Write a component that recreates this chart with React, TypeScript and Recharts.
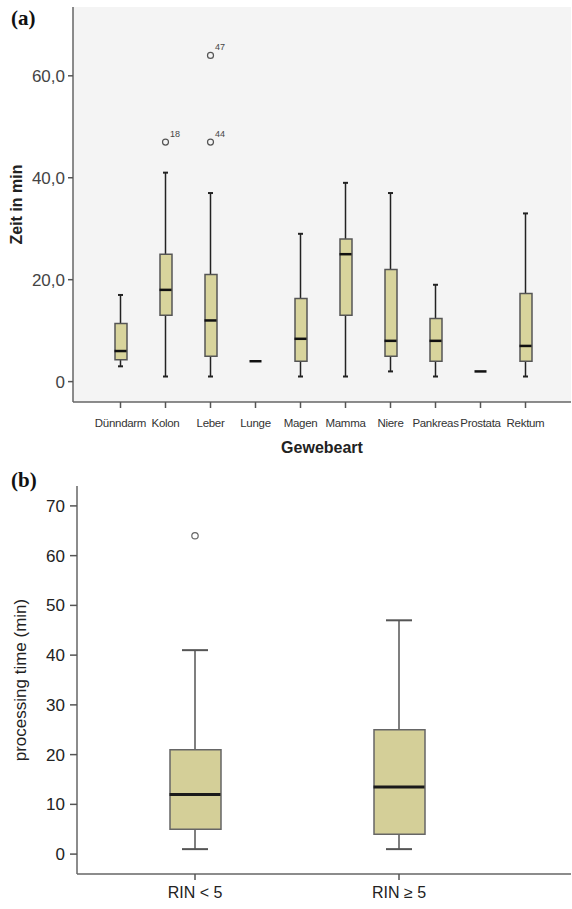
import { ComposedChart, Bar, Scatter, XAxis, YAxis, CartesianGrid } from "recharts";

// (a) processing time per tissue type
const tissues = ["Dünndarm", "Kolon", "Leber", "Lunge", "Magen", "Mamma", "Niere", "Pankreas", "Prostata", "Rektum"];
const tissueLow = [3, 1, 1, 4, 1, 1, 2, 1, 2, 1];
const tissueQ1 = [4.3, 13, 5, 4, 4, 13, 5, 4, 2, 4];
const tissueMedian = [6, 18, 12, 4, 8.4, 25, 8, 8, 2, 7];
const tissueQ3 = [11.4, 25, 21, 4, 16.3, 28, 22, 12.4, 2, 17.3];
const tissueHigh = [17, 41, 37, 4, 29, 39, 37, 19, 2, 33];
const tissueOutlierCats = ["Kolon", "Leber", "Leber"];
const tissueOutlierValues = [47, 47, 64];
const tissueOutlierIds = ["18", "44", "47"];
const yTicksA = [0, 20, 40, 60];

// (b) processing time by RIN group
const rinGroups = ["RIN < 5", "RIN ≥ 5"];
const rinLow = [1, 1];
const rinQ1 = [5, 4];
const rinMedian = [12, 13.5];
const rinQ3 = [21, 25];
const rinHigh = [41, 47];
const rinOutlierCats = ["RIN < 5"];
const rinOutlierValues = [64];
const rinOutlierIds = [""];
const yTicksB = [0, 10, 20, 30, 40, 50, 60, 70];

function buildRows(
  cats: string[], lo: number[], q1: number[], med: number[], q3: number[], hi: number[],
  outCats: string[], outVals: number[], outIds: string[]
) {
  return cats.map((name, i) => {
    const row: any = { name, whisker: [lo[i], hi[i]], box: [q1[i], q3[i]], median: med[i], outA: null, outB: null };
    const outs = outCats.map((c, j) => (c === name ? j : -1)).filter((j) => j >= 0);
    if (outs[0] !== undefined) { row.outA = outVals[outs[0]]; row.outAId = outIds[outs[0]]; }
    if (outs[1] !== undefined) { row.outB = outVals[outs[1]]; row.outBId = outIds[outs[1]]; }
    return row;
  });
}

const rowsA = buildRows(tissues, tissueLow, tissueQ1, tissueMedian, tissueQ3, tissueHigh, tissueOutlierCats, tissueOutlierValues, tissueOutlierIds);
const rowsB = buildRows(rinGroups, rinLow, rinQ1, rinMedian, rinQ3, rinHigh, rinOutlierCats, rinOutlierValues, rinOutlierIds);

const SANS = "'Liberation Sans', Arial, sans-serif";

function whiskerShape(color: string, width: number, capWidth: number) {
  return (p: any) => {
    const { x, y, width: w, height } = p;
    if (!(Math.abs(height) > 0)) return <g />;
    const top = Math.min(y, y + height);
    const bot = Math.max(y, y + height);
    const cx = x + w / 2;
    return (
      <g stroke={color}>
        <line x1={cx} x2={cx} y1={top} y2={bot} strokeWidth={width} />
        <line x1={x} x2={x + w} y1={top} y2={top} strokeWidth={capWidth} />
        <line x1={x} x2={x + w} y1={bot} y2={bot} strokeWidth={capWidth} />
      </g>
    );
  };
}

function medianShape(half: number, color: string, width: number) {
  return (p: any) => {
    const { cx, cy } = p;
    if (cx == null || cy == null) return <g />;
    return <line x1={cx - half} x2={cx + half} y1={cy} y2={cy} stroke={color} strokeWidth={width} />;
  };
}

function outlierShape(key: string, r: number, color: string, fontSize: number) {
  return (p: any) => {
    const { cx, cy, payload } = p;
    if (cx == null || cy == null || payload == null || payload[key] == null) return <g />;
    const id = payload[key + "Id"];
    return (
      <g>
        <circle cx={cx} cy={cy} r={r} fill="none" stroke={color} strokeWidth={1.2} />
        {id ? (
          <text x={cx + 4.5} y={cy - 5.5} fontSize={fontSize} fill="#444" fontFamily={SANS}>{id}</text>
        ) : null}
      </g>
    );
  };
}

function ChartA() {
  return (
    <ComposedChart width={572} height={460} data={rowsA} margin={{ top: 7, right: 1, left: 0, bottom: 0 }}>
      <CartesianGrid horizontal={false} vertical={false} fill="#f4f4f4" />
      <XAxis
        dataKey="name"
        height={58}
        padding={{ left: 25, right: 23 }}
        interval={0}
        tick={{ fontSize: 11.5, fill: "#333", fontFamily: SANS, letterSpacing: -0.3 }}
        tickSize={6}
        tickMargin={11}
        tickLine={{ stroke: "#555", strokeWidth: 1.5 }}
        axisLine={{ stroke: "#666", strokeWidth: 1.5 }}
        label={{ value: "Gewebeart", position: "insideBottom", offset: 7, style: { fontSize: 16, fontWeight: "bold", fill: "#222", fontFamily: SANS } }}
      />
      <XAxis xAxisId="w" dataKey="name" hide padding={{ left: 25, right: 23 }} />
      <XAxis xAxisId="top" dataKey="name" orientation="top" height={0} tick={false} tickLine={false} axisLine={{ stroke: "#777", strokeWidth: 1.5 }} />
      <YAxis
        width={73}
        domain={[-4, 73.5]}
        ticks={yTicksA}
        allowDataOverflow
        tickFormatter={(v: number) => (v === 0 ? "0" : `${v},0`)}
        tick={{ fontSize: 17, fill: "#444", fontFamily: SANS }}
        tickSize={5}
        tickMargin={3}
        tickLine={{ stroke: "#555", strokeWidth: 1.5 }}
        axisLine={{ stroke: "#666", strokeWidth: 1.5 }}
        label={{ value: "Zeit in min", angle: -90, position: "insideLeft", offset: 16, style: { textAnchor: "middle", fontSize: 16, fontWeight: "bold", fill: "#222", fontFamily: SANS } }}
      />
      <Bar xAxisId="w" dataKey="whisker" barSize={5} isAnimationActive={false} shape={whiskerShape("#222", 1.5, 2)} />
      <Bar dataKey="box" barSize={12} fill="#d8d49c" stroke="#555" strokeWidth={1.5} isAnimationActive={false} />
      <Scatter dataKey="median" isAnimationActive={false} shape={medianShape(6, "#111", 2.5)} />
      <Scatter dataKey="outA" isAnimationActive={false} shape={outlierShape("outA", 3, "#555", 9)} />
      <Scatter dataKey="outB" isAnimationActive={false} shape={outlierShape("outB", 3, "#555", 9)} />
    </ComposedChart>
  );
}

function ChartB() {
  return (
    <ComposedChart width={572} height={449} data={rowsB} margin={{ top: 26, right: 1, left: 0, bottom: 0 }}>
      <XAxis
        dataKey="name"
        height={35}
        padding={{ left: 16, right: 70 }}
        interval={0}
        tick={{ fontSize: 16, fill: "#222", fontFamily: SANS }}
        tickSize={6}
        tickMargin={7}
        tickLine={{ stroke: "#555", strokeWidth: 1.5 }}
        axisLine={{ stroke: "#666", strokeWidth: 1.5 }}
      />
      <XAxis xAxisId="w" dataKey="name" hide padding={{ left: 16, right: 70 }} />
      <XAxis xAxisId="top" dataKey="name" orientation="top" height={0} tick={false} tickLine={false} axisLine={{ stroke: "#777", strokeWidth: 1.5 }} />
      <YAxis
        width={77}
        domain={[-4, 74]}
        ticks={yTicksB}
        allowDataOverflow
        tick={{ fontSize: 17, fill: "#222", fontFamily: SANS }}
        tickSize={7}
        tickMargin={5}
        tickLine={{ stroke: "#555", strokeWidth: 1.5 }}
        axisLine={{ stroke: "#666", strokeWidth: 1.5 }}
        label={{ value: "processing time (min)", angle: -90, position: "insideLeft", offset: 20, style: { textAnchor: "middle", fontSize: 17, fill: "#222", fontFamily: SANS } }}
      />
      <YAxis yAxisId="r" orientation="right" width={0} tick={false} tickLine={false} axisLine={{ stroke: "#ccc", strokeWidth: 1 }} />
      <Bar xAxisId="w" dataKey="whisker" barSize={26} isAnimationActive={false} shape={whiskerShape("#555", 1.5, 2)} />
      <Bar dataKey="box" barSize={51} fill="#d4cf98" stroke="#666" strokeWidth={1.5} isAnimationActive={false} />
      <Scatter dataKey="median" isAnimationActive={false} shape={medianShape(25.5, "#1a1a1a", 3)} />
      <Scatter dataKey="outA" isAnimationActive={false} shape={outlierShape("outA", 3.2, "#666", 9)} />
    </ComposedChart>
  );
}

export default function App() {
  const panelLabel: any = {
    position: "absolute",
    fontFamily: "'Liberation Serif', 'Times New Roman', serif",
    fontWeight: "bold",
    fontSize: 21,
    color: "#111",
    lineHeight: 1,
  };
  return (
    <div style={{ position: "absolute", left: 0, top: 0, width: 572, height: 909, background: "#fff", overflow: "hidden" }}>
      <div style={{ position: "absolute", left: 0, top: 0 }}>
        <ChartA />
      </div>
      <div style={{ position: "absolute", left: 0, top: 460 }}>
        <ChartB />
      </div>
      <div style={{ ...panelLabel, left: 11, top: 8 }}>(a)</div>
      <div style={{ ...panelLabel, left: 11, top: 470 }}>(b)</div>
    </div>
  );
}
